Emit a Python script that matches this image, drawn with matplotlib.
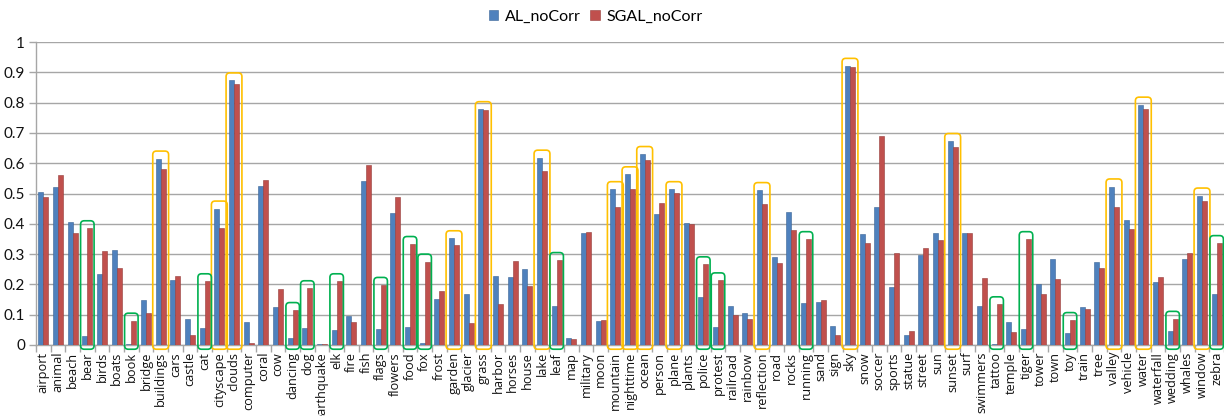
import numpy as np
import matplotlib
matplotlib.use("Agg")
import matplotlib.pyplot as plt
from matplotlib.patches import FancyBboxPatch

categories = [
    "airport", "animal", "beach", "bear", "birds", "boats", "book", "bridge",
    "buildings", "cars", "castle", "cat", "cityscape", "clouds", "computer",
    "coral", "cow", "dancing", "dog", "earthquake", "elk", "fire", "fish",
    "flags", "flowers", "food", "fox", "frost", "garden", "glacier", "grass",
    "harbor", "horses", "house", "lake", "leaf", "map", "military", "moon",
    "mountain", "nighttime", "ocean", "person", "plane", "plants", "police",
    "protest", "railroad", "rainbow", "reflection", "road", "rocks", "running",
    "sand", "sign", "sky", "snow", "soccer", "sports", "statue", "street",
    "sun", "sunset", "surf", "swimmers", "tattoo", "temple", "tiger", "tower",
    "town", "toy", "train", "tree", "valley", "vehicle", "water", "waterfall",
    "wedding", "whales", "window", "zebra",
]

al_nocorr = [
    0.505, 0.520, 0.405, 0.030, 0.235, 0.315, 0.003, 0.150,
    0.615, 0.215, 0.085, 0.055, 0.450, 0.873, 0.077,
    0.524, 0.126, 0.022, 0.057, 0.003, 0.050, 0.095, 0.540,
    0.052, 0.437, 0.060, 0.005, 0.152, 0.352, 0.168, 0.778,
    0.229, 0.225, 0.250, 0.618, 0.130, 0.022, 0.368, 0.079,
    0.514, 0.563, 0.630, 0.433, 0.514, 0.403, 0.157,
    0.060, 0.130, 0.107, 0.511, 0.289, 0.438, 0.140,
    0.143, 0.064, 0.921, 0.365, 0.454, 0.190, 0.032, 0.296,
    0.370, 0.673, 0.368, 0.129, 0.003, 0.075, 0.052, 0.200,
    0.284, 0.041, 0.127, 0.273, 0.523, 0.413, 0.793, 0.208,
    0.045, 0.284, 0.493, 0.168,
]

sgal_nocorr = [
    0.490, 0.560, 0.370, 0.385, 0.310, 0.255, 0.080, 0.105,
    0.580, 0.228, 0.033, 0.210, 0.385, 0.862, 0.005,
    0.544, 0.185, 0.115, 0.187, 0.004, 0.210, 0.077, 0.595,
    0.198, 0.487, 0.333, 0.275, 0.177, 0.330, 0.074, 0.775,
    0.135, 0.277, 0.196, 0.575, 0.280, 0.019, 0.373, 0.081,
    0.454, 0.514, 0.611, 0.470, 0.503, 0.399, 0.266,
    0.213, 0.098, 0.086, 0.464, 0.271, 0.378, 0.349,
    0.148, 0.033, 0.918, 0.338, 0.690, 0.304, 0.046, 0.321,
    0.345, 0.655, 0.369, 0.220, 0.134, 0.044, 0.349, 0.169,
    0.218, 0.082, 0.119, 0.253, 0.454, 0.384, 0.778, 0.223,
    0.086, 0.302, 0.474, 0.336,
]

# Categories where both methods score high
gold_boxes = [
    "buildings", "cityscape", "clouds", "garden", "grass", "lake", "mountain",
    "nighttime", "ocean", "plane", "reflection", "sky", "sunset", "valley",
    "water", "window",
]
# Categories where SGAL clearly improves on AL
green_boxes = [
    "bear", "book", "cat", "dancing", "dog", "elk", "flags", "food", "fox",
    "leaf", "police", "protest", "running", "tattoo", "tiger", "toy",
    "wedding", "zebra",
]

BLUE = "#4F81BD"
RED = "#C0504D"
GOLD = "#FFC000"
GREEN = "#00B050"
GRID = "#A6A6A6"
FONT = ["Lato", "DejaVu Sans"]
LABEL_FONT = ["Open Sans", "DejaVu Sans"]

plt.rcParams["font.family"] = FONT

W, H = 1224, 416
left_px, right_px, top_px, zero_px = 36, 1224, 42, 345

fig = plt.figure(figsize=(W / 100, H / 100), dpi=100)
ax = fig.add_axes([left_px / W, 1 - zero_px / H,
                   (right_px - left_px) / W, (zero_px - top_px) / H])

x = np.arange(len(categories))
bw = 0.35
ax.bar(x - bw / 2, al_nocorr, width=bw, color=BLUE, edgecolor="#3A6496",
       linewidth=0.4, label="AL_noCorr", zorder=3)
ax.bar(x + bw / 2, sgal_nocorr, width=bw, color=RED, edgecolor="#943C3A",
       linewidth=0.4, label="SGAL_noCorr", zorder=3)

ax.set_xlim(-0.5, len(categories) - 0.5)
ax.set_ylim(0, 1.0)

# Rounded highlight frames around selected categories
px_per_cat = (right_px - left_px) / len(categories)
px_per_unit = zero_px - top_px
aspect = px_per_cat / px_per_unit
for names, col, half in ((gold_boxes, GOLD, 0.54), (green_boxes, GREEN, 0.46)):
    for name in names:
        i = categories.index(name)
        top = max(al_nocorr[i], sgal_nocorr[i]) + 0.025
        bottom = -0.014
        box = FancyBboxPatch((i - half, bottom), 2 * half, top - bottom,
                             boxstyle="round,pad=0,rounding_size=0.25",
                             mutation_aspect=aspect, fill=False,
                             edgecolor=col, linewidth=1.2, zorder=4,
                             clip_on=False)
        ax.add_patch(box)

ax.set_yticks(np.arange(0, 1.01, 0.1))
ax.set_yticklabels(["0"] + [f"{v:.1f}" for v in np.arange(0.1, 0.95, 0.1)] + ["1"])
ax.yaxis.grid(True, color=GRID, linewidth=1.0, zorder=0)
ax.set_axisbelow(True)

ax.set_xticks(x)
ax.set_xticklabels(categories, rotation=90, fontsize=9.2, color="#111111",
                   family=LABEL_FONT)
ax.set_xticks(np.arange(-0.5, len(categories), 1.0), minor=True)
ax.tick_params(axis="x", which="major", length=0, pad=5)
ax.tick_params(axis="x", which="minor", length=5, color=GRID, width=1)
ax.tick_params(axis="y", length=5, color=GRID, width=1, labelsize=11,
               labelcolor="#111111", pad=3)

for side in ("top", "right"):
    ax.spines[side].set_visible(False)
for side in ("left", "bottom"):
    ax.spines[side].set_color(GRID)
    ax.spines[side].set_linewidth(1.0)

fig.legend(loc="upper center", bbox_to_anchor=(0.4865, 1.012), ncol=2,
           frameon=False, fontsize=11.5, handlelength=0.6, handleheight=0.6,
           handletextpad=0.4, columnspacing=0.6)

fig.savefig("out.png", dpi=100)
